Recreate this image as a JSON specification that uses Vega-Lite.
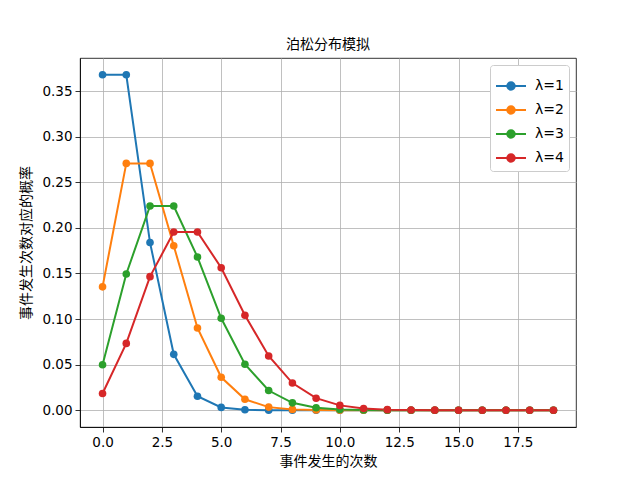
{
  "$schema": "https://vega.github.io/schema/vega-lite/v6.json",
  "description": "泊松分布模拟",
  "autosize": {"type": "none"},
  "padding": {"left": 80, "top": 58, "right": 64, "bottom": 53},
  "width": 496,
  "height": 369,
  "title": {
    "text": "泊松分布模拟",
    "font": "Noto Sans CJK SC",
    "fontSize": 14,
    "fontWeight": "normal",
    "color": "black",
    "anchor": "middle",
    "offset": 6
  },
  "config": {
    "view": {"stroke": "black", "strokeWidth": 0.8},
    "axis": {
      "grid": true,
      "gridColor": "#b0b0b0",
      "gridWidth": 0.8,
      "domainColor": "black",
      "domainWidth": 0.8,
      "tickColor": "black",
      "tickWidth": 0.8,
      "tickSize": 5,
      "labelFont": "DejaVu Sans",
      "labelFontSize": 13.5,
      "labelColor": "black",
      "labelPadding": 3,
      "titleFont": "Noto Sans CJK SC",
      "titleFontSize": 14,
      "titleFontWeight": "normal",
      "titleColor": "black"
    }
  },
  "data": {
    "values": [
      {"k": 0, "p": 0.3679, "s": "λ=1"}, {"k": 1, "p": 0.3679, "s": "λ=1"}, {"k": 2, "p": 0.1839, "s": "λ=1"}, {"k": 3, "p": 0.0613, "s": "λ=1"},
      {"k": 4, "p": 0.0153, "s": "λ=1"}, {"k": 5, "p": 0.0031, "s": "λ=1"}, {"k": 6, "p": 0.0005, "s": "λ=1"}, {"k": 7, "p": 0.0001, "s": "λ=1"},
      {"k": 8, "p": 0, "s": "λ=1"}, {"k": 9, "p": 0, "s": "λ=1"}, {"k": 10, "p": 0, "s": "λ=1"}, {"k": 11, "p": 0, "s": "λ=1"},
      {"k": 12, "p": 0, "s": "λ=1"}, {"k": 13, "p": 0, "s": "λ=1"}, {"k": 14, "p": 0, "s": "λ=1"}, {"k": 15, "p": 0, "s": "λ=1"},
      {"k": 16, "p": 0, "s": "λ=1"}, {"k": 17, "p": 0, "s": "λ=1"}, {"k": 18, "p": 0, "s": "λ=1"}, {"k": 19, "p": 0, "s": "λ=1"},
      {"k": 0, "p": 0.1353, "s": "λ=2"}, {"k": 1, "p": 0.2707, "s": "λ=2"}, {"k": 2, "p": 0.2707, "s": "λ=2"}, {"k": 3, "p": 0.1804, "s": "λ=2"},
      {"k": 4, "p": 0.0902, "s": "λ=2"}, {"k": 5, "p": 0.0361, "s": "λ=2"}, {"k": 6, "p": 0.012, "s": "λ=2"}, {"k": 7, "p": 0.0034, "s": "λ=2"},
      {"k": 8, "p": 0.0009, "s": "λ=2"}, {"k": 9, "p": 0.0002, "s": "λ=2"}, {"k": 10, "p": 0, "s": "λ=2"}, {"k": 11, "p": 0, "s": "λ=2"},
      {"k": 12, "p": 0, "s": "λ=2"}, {"k": 13, "p": 0, "s": "λ=2"}, {"k": 14, "p": 0, "s": "λ=2"}, {"k": 15, "p": 0, "s": "λ=2"},
      {"k": 16, "p": 0, "s": "λ=2"}, {"k": 17, "p": 0, "s": "λ=2"}, {"k": 18, "p": 0, "s": "λ=2"}, {"k": 19, "p": 0, "s": "λ=2"},
      {"k": 0, "p": 0.0498, "s": "λ=3"}, {"k": 1, "p": 0.1494, "s": "λ=3"}, {"k": 2, "p": 0.224, "s": "λ=3"}, {"k": 3, "p": 0.224, "s": "λ=3"},
      {"k": 4, "p": 0.168, "s": "λ=3"}, {"k": 5, "p": 0.1008, "s": "λ=3"}, {"k": 6, "p": 0.0504, "s": "λ=3"}, {"k": 7, "p": 0.0216, "s": "λ=3"},
      {"k": 8, "p": 0.0081, "s": "λ=3"}, {"k": 9, "p": 0.0027, "s": "λ=3"}, {"k": 10, "p": 0.0008, "s": "λ=3"}, {"k": 11, "p": 0.0002, "s": "λ=3"},
      {"k": 12, "p": 0.0001, "s": "λ=3"}, {"k": 13, "p": 0, "s": "λ=3"}, {"k": 14, "p": 0, "s": "λ=3"}, {"k": 15, "p": 0, "s": "λ=3"},
      {"k": 16, "p": 0, "s": "λ=3"}, {"k": 17, "p": 0, "s": "λ=3"}, {"k": 18, "p": 0, "s": "λ=3"}, {"k": 19, "p": 0, "s": "λ=3"},
      {"k": 0, "p": 0.0183, "s": "λ=4"}, {"k": 1, "p": 0.0733, "s": "λ=4"}, {"k": 2, "p": 0.1465, "s": "λ=4"}, {"k": 3, "p": 0.1954, "s": "λ=4"},
      {"k": 4, "p": 0.1954, "s": "λ=4"}, {"k": 5, "p": 0.1563, "s": "λ=4"}, {"k": 6, "p": 0.1042, "s": "λ=4"}, {"k": 7, "p": 0.0595, "s": "λ=4"},
      {"k": 8, "p": 0.0298, "s": "λ=4"}, {"k": 9, "p": 0.0132, "s": "λ=4"}, {"k": 10, "p": 0.0053, "s": "λ=4"}, {"k": 11, "p": 0.0019, "s": "λ=4"},
      {"k": 12, "p": 0.0006, "s": "λ=4"}, {"k": 13, "p": 0.0002, "s": "λ=4"}, {"k": 14, "p": 0.0001, "s": "λ=4"}, {"k": 15, "p": 0, "s": "λ=4"},
      {"k": 16, "p": 0, "s": "λ=4"}, {"k": 17, "p": 0, "s": "λ=4"}, {"k": 18, "p": 0, "s": "λ=4"}, {"k": 19, "p": 0, "s": "λ=4"}
    ]
  },
  "encoding": {
    "x": {
      "field": "k",
      "type": "quantitative",
      "scale": {"domain": [-0.95, 19.95], "nice": false, "zero": false},
      "axis": {"values": [0, 2.5, 5, 7.5, 10, 12.5, 15, 17.5], "format": ".1f", "title": "事件发生的次数", "titlePadding": 6}
    },
    "y": {
      "field": "p",
      "type": "quantitative",
      "scale": {"domain": [-0.0184, 0.3863], "nice": false, "zero": false},
      "axis": {"values": [0, 0.05, 0.1, 0.15, 0.2, 0.25, 0.3, 0.35], "format": ".2f", "title": "事件发生次数对应的概率", "titlePadding": 8}
    },
    "color": {
      "field": "s",
      "type": "nominal",
      "scale": {"domain": ["λ=1", "λ=2", "λ=3", "λ=4"], "range": ["#1f77b4", "#ff7f0e", "#2ca02c", "#d62728"]},
      "legend": {
        "title": null,
        "orient": "top-right",
        "offset": 7,
        "padding": 5,
        "fillColor": "white",
        "strokeColor": "#cccccc",
        "cornerRadius": 3,
        "symbolType": "M-1,0H1M-0.25,0A0.25,0.25,0,1,1,0.25,0A0.25,0.25,0,1,1,-0.25,0Z",
        "symbolSize": 900,
        "symbolStrokeWidth": 2,
        "rowPadding": -9,
        "labelFont": "DejaVu Sans",
        "labelFontSize": 14,
        "labelColor": "black",
        "labelOffset": 8
      }
    }
  },
  "layer": [
    {"mark": {"type": "line", "strokeWidth": 2}},
    {"mark": {"type": "point", "filled": true, "opacity": 1, "size": 58, "shape": "circle"}}
  ]
}
